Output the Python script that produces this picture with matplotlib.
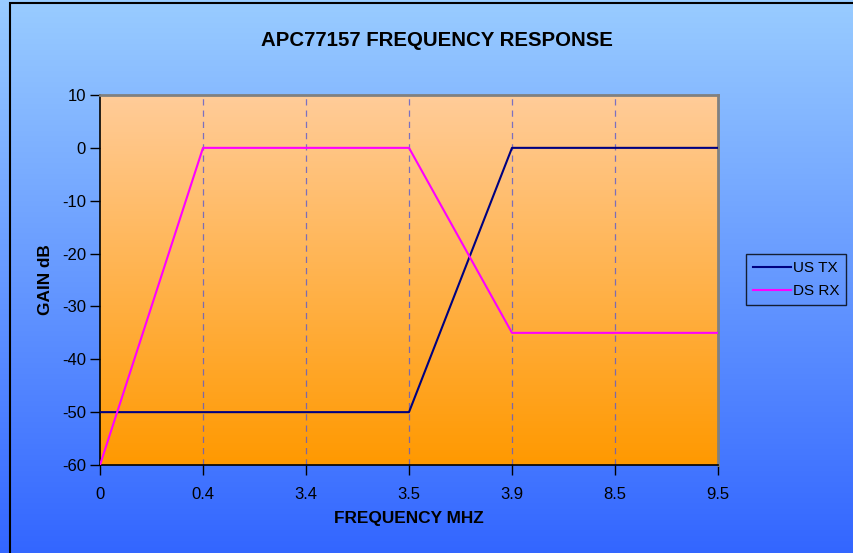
import numpy as np
import matplotlib.pyplot as plt
from matplotlib.colors import LinearSegmentedColormap
from matplotlib.patches import Rectangle

plt.rcParams['font.family'] = ['Liberation Sans', 'DejaVu Sans']

freq_labels = ['0', '0.4', '3.4', '3.5', '3.9', '8.5', '9.5']
us_tx = [-50, -50, -50, -50, 0, 0, 0]
ds_rx = [-60, 0, 0, 0, -35, -35, -35]

W, H = 854, 553
fig = plt.figure(figsize=(W / 100, H / 100), dpi=100)

# figure background gradient
bg = fig.add_axes([0, 0, 1, 1], zorder=-10)
bg_cmap = LinearSegmentedColormap.from_list('bg', ['#3366FF', '#99CCFF'])
bg.imshow(np.linspace(0, 1, 256).reshape(-1, 1), aspect='auto', cmap=bg_cmap,
          origin='lower', extent=[0, 1, 0, 1])
bg.set_xlim(0, 1)
bg.set_ylim(0, 1)
bg.axis('off')
bg.add_patch(Rectangle((10 / W, -0.1), 1.2, 1 - 3 / H + 0.1, fill=False,
                       edgecolor='black', lw=1.5, transform=bg.transAxes))

ax = fig.add_axes([100 / W, (H - 465) / H, 618 / W, 370 / H])
x = np.arange(len(freq_labels))

# plot area gradient
pa_cmap = LinearSegmentedColormap.from_list('pa', ['#FF9900', '#FFCC99'])
ax.imshow(np.linspace(0, 1, 256).reshape(-1, 1), aspect='auto', cmap=pa_cmap,
          origin='lower', extent=[0, len(x) - 1, -60, 10], zorder=0)

for xi in x[1:-1]:
    ax.axvline(xi, color='#5A5ACD', lw=0.9, ls=(0, (5, 4)), alpha=0.8, zorder=1)

ax.plot(x, us_tx, color='#000080', lw=1.5, label='US TX', zorder=3)
ax.plot(x, ds_rx, color='#FF00FF', lw=1.5, label='DS RX', zorder=3)

ax.set_xlim(0, len(x) - 1)
ax.set_ylim(-60, 10)
ax.set_xticks(x)
ax.set_xticklabels(freq_labels)
ax.set_yticks(range(-60, 11, 10))
ax.set_yticklabels([str(v) for v in range(-60, 11, 10)])
ax.tick_params(labelsize=12, length=7, width=1, direction='out', pad=3)
ax.tick_params(axis='x', pad=9)

for s in ['left', 'bottom']:
    ax.spines[s].set_color('black')
    ax.spines[s].set_linewidth(1.2)
for s in ['top', 'right']:
    ax.spines[s].set_color('#808080')
    ax.spines[s].set_linewidth(2)

fig.text(437 / W, 1 - 40 / H, 'APC77157 FREQUENCY RESPONSE', ha='center',
         va='center', fontsize=14.7, fontweight='bold')
fig.text(409 / W, 1 - 519 / H, 'FREQUENCY MHZ', ha='center', va='center',
         fontsize=12.4, fontweight='bold')
fig.text(45 / W, 1 - 280 / H, 'GAIN dB', ha='center', va='center',
         fontsize=12.4, fontweight='bold', rotation=90)

leg = ax.legend(loc='upper left', bbox_to_anchor=(746 / W, 1 - 254 / H),
                bbox_transform=fig.transFigure, fontsize=11, frameon=True,
                fancybox=False, handlelength=2.5, handletextpad=0.1,
                borderpad=0.45, labelspacing=0.6, borderaxespad=0)
leg.get_frame().set_facecolor('none')
leg.get_frame().set_edgecolor('black')
leg.get_frame().set_linewidth(1)

fig.savefig('out.png', dpi=100)
